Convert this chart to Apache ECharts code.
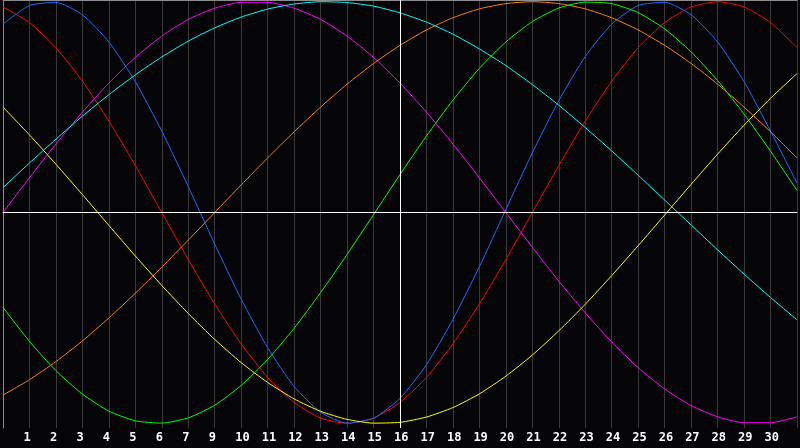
<!DOCTYPE html>
<html>
<head>
<meta charset="utf-8">
<script src="https://cdn.jsdelivr.net/npm/echarts@6/dist/echarts.min.js"></script>
<style>
  html, body { margin: 0; padding: 0; background: #050507; }
  #chart { width: 800px; height: 448px; }
</style>
</head>
<body>
<div id="chart"></div>
<script>
// day labels (8 is missing in the original)
const dayLabels = ['', '1', '2', '3', '4', '5', '6', '7', '9', '10', '11', '12', '13', '14', '15', '16',
    '17', '18', '19', '20', '21', '22', '23', '24', '25', '26', '27', '28', '29', '30', ''];

const redValues = [0.975, 0.901, 0.782, 0.623, 0.434, 0.223, 0.000, -0.223, -0.434, -0.623, -0.782,
    -0.901, -0.975, -1.000, -0.975, -0.901, -0.782, -0.623, -0.434, -0.223, 0.000,
    0.223, 0.434, 0.623, 0.782, 0.901, 0.975, 1.000, 0.975, 0.901, 0.782];
const blueValues = [0.894, 0.982, 0.997, 0.938, 0.809, 0.621, 0.386, 0.123, -0.150, -0.411, -0.641,
    -0.825, -0.947, -0.999, -0.976, -0.881, -0.722, -0.507, -0.257, 0.014, 0.283,
    0.531, 0.740, 0.894, 0.982, 0.997, 0.938, 0.809, 0.621, 0.386, 0.140];
const magentaValues = [0.000, 0.165, 0.325, 0.476, 0.614, 0.736, 0.837, 0.916, 0.969, 0.997, 0.997,
    0.969, 0.916, 0.837, 0.736, 0.614, 0.476, 0.325, 0.165, 0.000, -0.165,
    -0.325, -0.476, -0.614, -0.736, -0.837, -0.916, -0.969, -0.997, -0.997, -0.969];
const cyanValues = [0.118, 0.235, 0.348, 0.457, 0.559, 0.653, 0.738, 0.813, 0.876, 0.927, 0.965,
    0.989, 1.000, 0.996, 0.979, 0.947, 0.903, 0.846, 0.776, 0.697, 0.607,
    0.509, 0.403, 0.292, 0.177, 0.059, -0.059, -0.177, -0.292, -0.403, -0.509];
const orangeValues = [-0.866, -0.793, -0.707, -0.609, -0.500, -0.383, -0.259, -0.131, 0.000, 0.131, 0.259,
    0.383, 0.500, 0.609, 0.707, 0.793, 0.866, 0.924, 0.966, 0.991, 1.000,
    0.991, 0.966, 0.924, 0.866, 0.793, 0.707, 0.609, 0.500, 0.383, 0.259];
const greenValues = [-0.450, -0.611, -0.750, -0.861, -0.942, -0.988, -0.999, -0.974, -0.914, -0.820, -0.697,
    -0.549, -0.380, -0.199, -0.010, 0.180, 0.363, 0.533, 0.684, 0.809, 0.906,
    0.970, 0.998, 0.991, 0.948, 0.871, 0.762, 0.626, 0.467, 0.291, 0.105];
const yellowValues = [0.500, 0.368, 0.229, 0.085, -0.061, -0.206, -0.346, -0.479, -0.602, -0.712, -0.806,
    -0.884, -0.943, -0.981, -0.999, -0.995, -0.970, -0.925, -0.860, -0.776, -0.676,
    -0.561, -0.435, -0.299, -0.157, -0.012, 0.134, 0.277, 0.414, 0.542, 0.659];

const todayIndex = 15;

const makeLine = (data, color) => ({
    type: 'line',
    data: data,
    smooth: 0.2,
    symbol: 'none',
    lineStyle: { color: color, width: 1 },
    itemStyle: { color: color }
});

const init = () => {
    const myChart = echarts.init(document.getElementById('chart'));
    let first = makeLine(redValues, '#ff0000');
    first.markLine = {
        silent: true,
        symbol: 'none',
        label: { show: false },
        lineStyle: { color: '#ffffff', width: 1, type: 'solid' },
        data: [{ yAxis: 0 }, { xAxis: todayIndex }]
    };
    let option = {
        backgroundColor: '#050507',
        animation: false,
        grid: { left: 0, right: 0, top: 0, bottom: 20 },
        xAxis: [
            {
                type: 'category',
                boundaryGap: false,
                data: dayLabels,
                axisLine: { show: true, lineStyle: { color: '#a0a0a0', width: 1 } },
                axisTick: { show: false },
                splitLine: { show: true, interval: 0, lineStyle: { color: '#3a3a3a', width: 1 } },
                axisLabel: {
                    interval: 0,
                    align: 'center',
                    margin: 4,
                    // labels start ~6px left of their grid line
                    formatter: (v) => v ? '{d|' + v + '}' : '',
                    rich: {
                        d: {
                            width: 12,
                            align: 'left',
                            color: '#ffffff',
                            fontFamily: 'DejaVu Sans Mono',
                            fontWeight: 'bold',
                            fontSize: 12
                        }
                    }
                }
            },
            {
                type: 'category',
                position: 'top',
                boundaryGap: false,
                data: dayLabels,
                axisLine: { show: true, lineStyle: { color: '#8c8c8c', width: 1 } },
                axisTick: { show: false },
                splitLine: { show: false },
                axisLabel: { show: false }
            }
        ],
        yAxis: {
            type: 'value',
            min: -1.022,
            max: 1.008,
            axisLine: { show: true, lineStyle: { color: '#8c8c8c' } },
            axisLabel: { show: false },
            axisTick: { show: false },
            splitLine: { show: false }
        },
        series: [
            first,
            makeLine(blueValues, '#1a6cff'),
            makeLine(magentaValues, '#ff00ff'),
            makeLine(cyanValues, '#00ffff'),
            makeLine(orangeValues, '#ff8000'),
            makeLine(greenValues, '#00ff00'),
            makeLine(yellowValues, '#ffff00')
        ]
    };
    myChart.setOption(option);
    window.addEventListener('resize', () => {
        myChart.resize();
    });
};
init();
</script>
</body>
</html>
